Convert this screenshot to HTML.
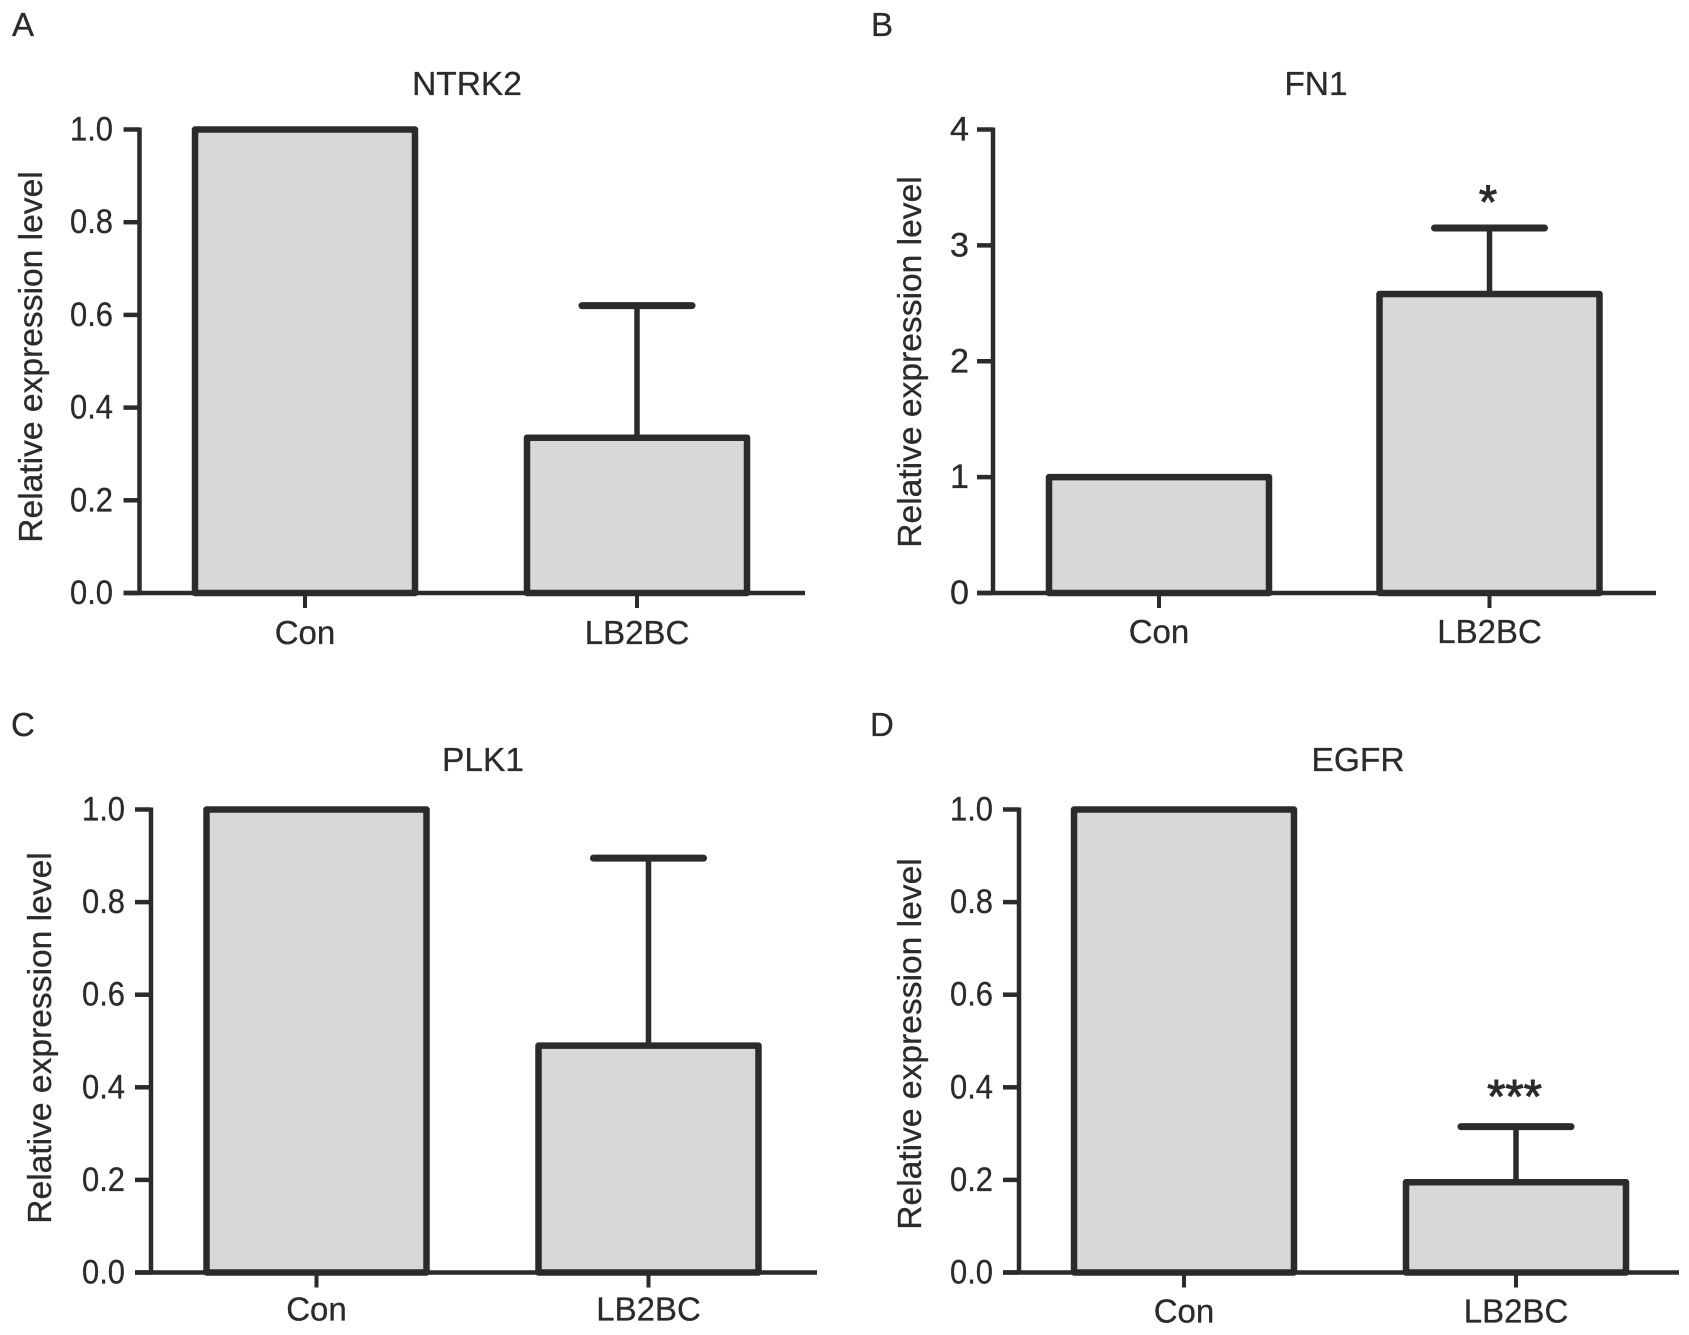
<!DOCTYPE html>
<html lang="en">
<head>
<meta charset="utf-8">
<title>Relative expression level bar charts</title>
<style>
html,body{margin:0;padding:0;background:#fff;}
svg{display:block;}
text{font-family:"Liberation Sans",sans-serif;fill:#2b2b2b;stroke:#2b2b2b;stroke-width:.3px;}
</style>
</head>
<body>
<svg id="figure" width="1689" height="1335" viewBox="0 0 1689 1335" xmlns="http://www.w3.org/2000/svg"></svg>
<script>
const categories = ["Con", "LB2BC"];
const panelLetters = ["A", "B", "C", "D"];
const panelTitles = ["NTRK2", "FN1", "PLK1", "EGFR"];
const axisMaxima = [1, 4, 1, 1];
const ticksFraction = ["0.0", "0.2", "0.4", "0.6", "0.8", "1.0"];
const ticksInteger = ["0", "1", "2", "3", "4"];
const meanNTRK2 = [1.0, 0.335];
const meanFN1 = [1.0, 2.58];
const meanPLK1 = [1.0, 0.49];
const meanEGFR = [1.0, 0.195];
const upperErrorNTRK2 = [null, 0.62];
const upperErrorFN1 = [null, 3.15];
const upperErrorPLK1 = [null, 0.895];
const upperErrorEGFR = [null, 0.315];
const significance = ["", "*", "", "***"];

const layouts = [
  {ax:139.5, top:129.5, base:593, right:805, c0:305, c1:637, lx:12, ly:36, titleX:467, titleY:95, yLabelX:42, yLabelY:357, tickRight:113, xLabelY:644, starGap:0},
  {ax:993, top:129.5, base:593, right:1656, c0:1159, c1:1489.5, lx:871, ly:36, titleX:1316, titleY:95, yLabelX:921, yLabelY:362, tickRight:969, xLabelY:643, starGap:10},
  {ax:151, top:809.5, base:1272.5, right:817, c0:316.5, c1:648.5, lx:11, ly:736, titleX:483, titleY:771, yLabelX:51, yLabelY:1038, tickRight:125, xLabelY:1320.5, starGap:0},
  {ax:1019, top:809.5, base:1272.5, right:1679, c0:1184, c1:1516, lx:870, ly:736, titleX:1358, titleY:771, yLabelX:921, yLabelY:1044, tickRight:993, xLabelY:1322.5, starGap:14}
];
const means = [meanNTRK2, meanFN1, meanPLK1, meanEGFR];
const errors = [upperErrorNTRK2, upperErrorFN1, upperErrorPLK1, upperErrorEGFR];
const tickSets = [ticksFraction, ticksInteger, ticksFraction, ticksFraction];

const INK = "#2b2b2b";
const BAR_FILL = "#d8d8d8";
const BAR_HALF = 110;
const CAP_HALF = 55;
const svg = document.getElementById("figure");

function make(tag, attrs, parent) {
  const node = document.createElementNS("http://www.w3.org/2000/svg", tag);
  for (const key in attrs) node.setAttribute(key, attrs[key]);
  parent.appendChild(node);
  return node;
}
function yScale(value, layout, max) {
  return layout.base - (value / max) * (layout.base - layout.top);
}

panelTitles.forEach(function (title, p) {
  const L = layouts[p];
  const max = axisMaxima[p];
  const key = title.toLowerCase();

  const group = make("g", {}, svg);
  
  

  const letter = make("text", {x: L.lx, y: L.ly, "font-size": 33}, group);
  letter.textContent = panelLetters[p];
  
  

  const heading = make("text", {x: L.titleX, y: L.titleY, "font-size": 33.5, "text-anchor": "middle"}, group);
  heading.textContent = title;
  
  

  const yTitle = make("text", {x: 0, y: 0, "font-size": 33.6, "text-anchor": "middle",
    transform: "translate(" + L.yLabelX + " " + L.yLabelY + ") rotate(-90)"}, group);
  yTitle.textContent = "Relative expression level";
  
  

  // bars and error bars
  categories.forEach(function (category, i) {
    const cx = i === 0 ? L.c0 : L.c1;
    const yTop = yScale(means[p][i], L, max);
    const err = errors[p][i];
    if (err !== null) {
      const yErr = yScale(err, L, max);
      const stem = make("line", {x1: cx, x2: cx, y1: yErr, y2: yTop, stroke: INK, "stroke-width": 5.5}, group);
      
      
      const cap = make("line", {x1: cx - CAP_HALF, x2: cx + CAP_HALF, y1: yErr, y2: yErr, stroke: INK, "stroke-width": 7, "stroke-linecap": "round"}, group);
      
      
    }
    const bar = make("rect", {x: cx - BAR_HALF, y: yTop, width: BAR_HALF * 2, height: L.base - yTop,
      fill: BAR_FILL, stroke: INK, "stroke-width": 6.5, "stroke-linejoin": "round"}, group);
    
    
  });

  // y axis
  const yAxis = make("line", {x1: L.ax, x2: L.ax, y1: L.top - 2, y2: L.base + 2, stroke: INK, "stroke-width": 4.5}, group);
  
  

  tickSets[p].forEach(function (label) {
    const y = yScale(parseFloat(label), L, max);
    const tick = make("line", {x1: L.ax - 16, x2: L.ax, y1: y, y2: y, stroke: INK, "stroke-width": 4.5}, group);
    
    
    const tickText = make("text", {x: L.tickRight, y: y + 11, "font-size": 34, "text-anchor": "end",
      textLength: label.length === 1 ? 19 : 43, lengthAdjust: "spacingAndGlyphs"}, group);
    tickText.textContent = label;
    
    
  });

  // x axis
  const xAxis = make("line", {x1: L.ax - 16, x2: L.right, y1: L.base, y2: L.base, stroke: INK, "stroke-width": 4.5}, group);
  
  

  categories.forEach(function (category, i) {
    const cx = i === 0 ? L.c0 : L.c1;
    const tick = make("line", {x1: cx, x2: cx, y1: L.base, y2: L.base + 15, stroke: INK, "stroke-width": 4}, group);
    
    
    const tickText = make("text", {x: cx, y: L.xLabelY, "font-size": 33, "text-anchor": "middle"}, group);
    tickText.textContent = category;
    
    
  });

  // significance marker
  if (significance[p]) {
    const yErr = yScale(errors[p][1], L, max);
    const star = make("text", {x: L.c1 - 1.5, y: yErr - L.starGap, "font-size": 47, "text-anchor": "middle", style: "stroke-width:1px"}, group);
    star.textContent = significance[p];
    
    
  }
});
</script>
</body>
</html>
